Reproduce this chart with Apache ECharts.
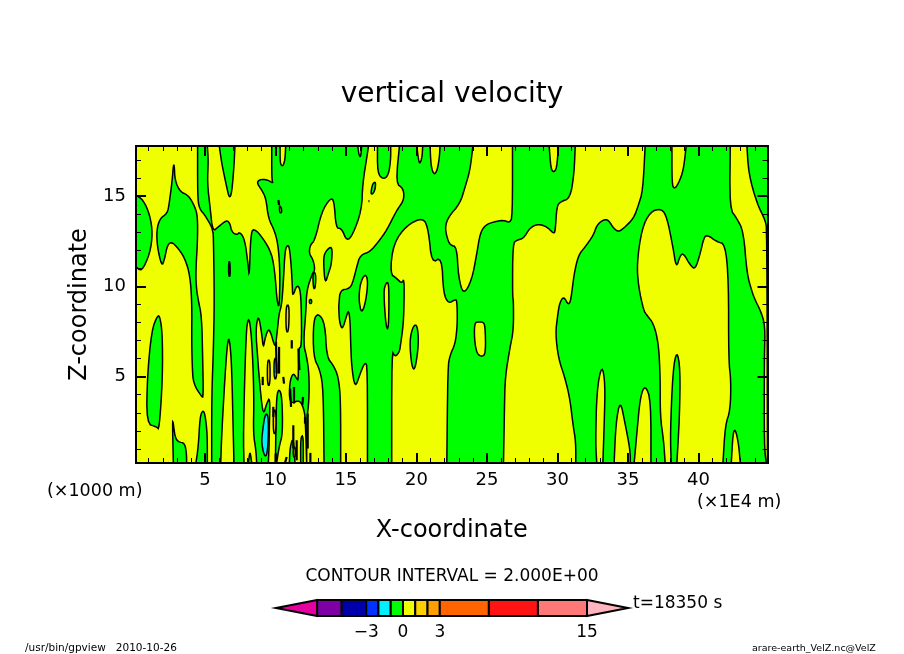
<!DOCTYPE html>
<html><head><meta charset="utf-8">
<style>html,body{margin:0;padding:0;background:#fff}#c{width:904px;height:654px}</style>
<script src="https://cdn.jsdelivr.net/npm/echarts@6/dist/echarts.min.js"></script>
</head><body><div id="c"></div>
<script>
// axis values
const xMin=0.1,xMax=44.9,zMin=0.22,zMax=17.77;
const xMajor=[5,10,15,20,25,30,35,40];
const zMajor=[5,10,15];
const xMinor=[1,2,3,4,5,6,7,8,9,10,11,12,13,14,15,16,17,18,19,20,21,22,23,24,25,26,27,28,29,30,31,32,33,34,35,36,37,38,39,40,41,42,43,44];
const zMinor=[1,2,3,4,5,6,7,8,9,10,11,12,13,14,15,16,17];
// contour regions: [x (1E4 m), z (1000 m)]
const wholeField=[[0.1,17.77],[44.9,17.77],[44.9,0.22],[0.1,0.22]];
const yellowLeft=[[0.1,17.77],[4.47,17.77],[4.47,14.96],[4.59,14.31],[4.99,13.94],[5.47,13.3],[5.54,13.02],[5.59,12.93],[5.66,9.23],[5.59,6.46],[5.47,3.88],[5.47,0.22],[0.1,0.22]];
const yellowTop=[[5.16,17.77],[5.23,16.99],[5.16,15.7],[5.35,14.41],[5.54,13.02],[5.94,13.3],[6.53,13.67],[6.77,13.48],[6.89,13.02],[7.24,12.84],[7.48,13.02],[7.83,12.56],[8.07,11.08],[8.14,10.53],[8.23,12.74],[8.42,13.26],[9.13,12.65],[9.73,11.82],[9.96,10.71],[10.08,9.42],[10.2,8.87],[10.27,9.05],[10.32,10.71],[10.2,12.19],[9.96,13.02],[9.49,13.76],[9.32,14.87],[9.02,15.33],[8.66,15.74],[8.9,15.92],[9.37,15.92],[9.84,15.7],[9.73,15.88],[9.73,17.77]];
const yellowSpikeI=[[6.65,7.2],[6.48,5.91],[6.18,1.85],[6.11,0.22],[7.05,0.22],[7.0,1.85],[6.89,5.54],[6.77,6.83]];
const yellowSpikeJ=[[8.07,8.31],[7.9,7.39],[7.71,1.85],[7.76,0.22],[8.66,0.22],[8.61,0.92],[8.42,1.85],[8.47,3.69],[8.38,6.09],[8.23,7.76]];
const yellowCentral=[[8.78,8.46],[9.02,7.39],[9.13,6.56],[9.25,7.11],[9.49,7.66],[9.68,7.39],[9.84,6.93],[9.99,6.65],[10.13,7.57],[10.25,8.5],[10.43,8.96],[10.55,10.16],[10.67,12.0],[10.84,12.28],[10.98,12.19],[11.12,11.08],[11.19,9.97],[11.22,9.42],[11.5,10.07],[11.74,9.88],[11.83,8.87],[11.85,6.65],[11.62,6.56],[11.62,4.8],[11.5,4.89],[11.26,5.21],[11.03,4.8],[10.96,3.88],[11.15,3.51],[11.62,3.69],[11.85,3.51],[12.02,3.14],[12.11,2.68],[12.21,0.22],[9.49,0.22],[9.54,1.11],[9.56,2.22],[9.61,3.88],[9.37,3.51],[9.13,2.86],[8.94,4.06],[8.78,5.54],[8.73,6.09],[8.59,7.57]];
const yellowMiddle=[[16.59,17.77],[17.23,17.77],[17.23,16.25],[17.65,15.92],[18.01,16.16],[18.17,16.99],[18.17,17.77],[18.79,17.77],[18.53,15.7],[19.07,15.42],[19.12,14.78],[18.6,14.22],[17.89,13.11],[17.3,12.47],[16.7,11.91],[16.0,11.73],[15.76,11.08],[15.52,10.34],[15.29,9.88],[14.58,9.79],[14.5,9.05],[14.48,8.87],[14.53,8.03],[14.74,7.57],[15.05,8.4],[15.17,8.68],[15.29,8.13],[15.33,6.83],[15.4,5.54],[15.64,4.34],[16.0,5.17],[16.35,5.82],[16.52,5.54],[16.52,0.22],[14.62,0.22],[14.62,3.69],[14.46,4.99],[14.1,5.63],[13.63,6.09],[13.51,7.94],[13.04,8.53],[12.68,8.13],[12.68,6.09],[13.16,5.36],[13.39,4.25],[13.44,0.22],[12.21,0.22],[12.21,2.59],[12.38,3.69],[12.38,5.17],[12.21,6.09],[11.97,6.83],[12.16,8.68],[12.21,9.79],[12.61,10.71],[12.8,10.9],[12.68,11.45],[12.38,11.82],[12.45,12.28],[12.8,12.56],[13.27,14.13],[13.87,14.87],[14.15,14.78],[14.29,13.21],[14.69,13.21],[15.05,12.5],[15.47,12.84],[16.11,14.22],[16.18,15.7],[16.52,17.36]];
const yellowBlobA=[[16.35,10.71],[16.0,10.16],[15.9,9.23],[16.11,8.46],[16.42,9.23],[16.56,10.34]];
const yellowThin=[[18.01,10.34],[17.7,9.97],[17.7,9.23],[17.84,7.76],[18.01,7.61],[18.05,9.23]];
const yellowRight3=[[18.12,10.71],[18.36,12.37],[19.31,13.39],[20.49,13.82],[20.85,13.11],[21.08,11.27],[21.79,11.64],[21.91,9.6],[22.27,9.05],[22.74,9.27],[22.86,9.23],[22.9,8.31],[22.86,7.57],[22.74,6.83],[22.38,6.19],[22.22,5.54],[22.15,0.22],[18.24,0.22],[18.24,6.46],[18.48,6.09],[18.79,6.37],[18.88,6.83],[19.07,7.94],[19.12,9.23],[19.12,10.43],[18.95,10.16],[18.6,10.43]];
const yellowUpper4=[[24.0,17.77],[26.81,17.77],[26.81,13.85],[26.6,13.52],[26.17,13.67],[25.46,13.57],[24.87,13.39],[24.51,12.93],[24.28,11.82],[23.92,10.34],[23.33,9.51],[22.97,10.53],[22.86,12.19],[22.38,12.28],[22.15,12.74],[22.03,13.3],[22.27,13.85],[23.09,14.59],[23.45,15.51],[23.8,16.44]];
const yellowBand5=[[31.26,17.77],[36.22,17.77],[36.06,15.33],[35.75,14.5],[35.4,13.76],[34.69,13.21],[34.33,13.02],[33.98,13.21],[33.62,13.67],[33.27,13.7],[32.79,13.39],[32.56,12.84],[31.97,12.19],[31.49,11.73],[31.18,10.71],[30.95,9.23],[30.78,8.96],[30.43,9.46],[30.14,9.05],[30.0,8.31],[29.86,7.39],[30.07,6.0],[30.55,4.89],[30.9,3.69],[31.09,2.4],[31.3,1.38],[31.3,0.22],[26.17,0.22],[26.24,3.32],[26.29,4.99],[26.64,6.65],[26.88,7.57],[26.88,9.23],[26.81,9.42],[26.83,12.37],[27.12,12.56],[27.59,12.65],[28.06,13.26],[28.65,13.45],[29.25,13.3],[29.72,12.93],[29.84,13.02],[29.95,14.41],[30.19,14.68],[30.9,14.87],[31.18,16.25]];
const yellowBlob5=[[24.11,7.98],[24.39,8.03],[24.7,8.03],[24.87,7.85],[24.91,6.28],[24.63,6.09],[24.28,6.28],[24.11,7.02]];
const yellowBlock6=[[37.36,14.31],[36.58,14.13],[35.99,13.21],[35.63,11.27],[35.75,9.97],[36.11,8.68],[36.34,8.4],[36.82,7.94],[37.17,6.83],[37.29,4.99],[37.29,2.77],[37.53,1.48],[37.64,0.22],[41.74,0.22],[41.9,2.31],[42.26,3.14],[42.31,4.8],[42.14,5.91],[42.14,10.34],[41.9,12.34],[41.31,12.47],[40.6,12.87],[40.37,12.65],[40.13,11.82],[39.77,10.93],[39.42,11.17],[38.95,11.82],[38.71,11.73],[38.43,10.99],[38.19,12.19],[37.76,13.85]];
const yellowSpike1=[[33.15,5.69],[32.79,4.25],[32.7,1.29],[32.79,0.22],[33.22,0.22],[33.31,2.22],[33.39,4.62]];
const yellowSpike2=[[34.45,3.73],[34.14,2.4],[34.02,0.22],[35.16,0.22],[35.16,0.92],[34.8,2.4]];
const yellowSpike3=[[36.22,4.56],[35.87,3.88],[35.63,1.85],[35.44,0.22],[36.63,0.22],[36.63,3.69]];
const yellowEdge7=[[42.26,17.77],[43.44,17.77],[43.56,16.25],[44.15,14.59],[44.74,13.67],[44.86,13.11],[44.9,0.22],[44.81,0.22],[44.67,1.11],[44.67,5.91],[44.74,7.85],[44.39,8.68],[44.03,9.23],[43.8,9.7],[43.44,10.71],[43.2,13.02],[42.73,13.76],[42.21,14.31]];
const yellowSpike8=[[42.61,2.12],[42.45,1.85],[42.33,0.22],[42.97,0.22],[42.85,1.29]];
const yellowNotches=[
 [[10.32,17.77],[10.32,16.81],[10.51,16.62],[10.67,16.99],[10.72,17.77]],
 [[15.83,17.77],[15.92,17.27],[16.04,17.14],[16.11,17.77]],
 [[20.02,17.77],[20.14,16.99],[20.25,16.77],[20.4,17.18],[20.44,17.77]],
 [[20.96,17.77],[21.03,16.62],[21.25,16.16],[21.48,16.44],[21.63,17.18],[21.67,17.77]],
 [[29.41,17.77],[29.53,16.53],[29.72,16.31],[29.95,16.53],[30.07,17.77]],
 [[38.12,17.77],[38.12,15.7],[38.28,15.37],[38.59,15.7],[38.94,16.44],[39.13,17.77]],
 [[6.67,11.36],[6.77,11.36],[6.79,10.56],[6.67,10.56]],
 [[10.27,14.5],[10.43,14.31],[10.43,14.07],[10.29,14.07]]
];
const greenIslands=[
 [[0.1,15.05],[0.62,14.78],[1.09,13.94],[1.28,12.93],[1.09,11.82],[0.5,10.81],[0.1,11.08]],
 [[2.75,16.71],[2.67,15.88],[2.46,14.59],[2.32,14.04],[1.8,13.76],[1.56,13.11],[1.61,12.19],[1.92,11.12],[2.11,11.45],[2.32,12.28],[2.63,12.47],[3.1,12.1],[3.57,11.54],[3.93,10.62],[4.07,9.05],[4.05,7.02],[4.09,5.54],[4.17,4.62],[4.76,3.88],[4.88,3.88],[4.83,6.09],[4.76,8.31],[4.52,9.23],[4.4,9.79],[4.33,10.71],[4.47,12.56],[4.47,13.85],[4.28,14.41],[3.81,15.05],[3.22,15.24],[2.86,15.88],[2.82,16.71]],
 [[1.63,8.4],[1.21,7.57],[0.9,4.99],[0.85,2.4],[1.56,2.22],[1.75,2.07],[1.99,4.99],[1.97,7.39],[1.8,8.31]],
 [[2.7,2.73],[2.86,1.66],[3.1,1.38],[3.57,1.33],[3.69,0.65],[3.69,0.22],[2.75,0.22],[2.7,1.85]],
 [[4.83,3.14],[4.64,2.77],[4.52,1.11],[4.35,0.22],[5.16,0.22],[5.16,1.85],[4.99,2.95]],
 [[6.01,17.77],[6.18,16.81],[6.53,15.51],[6.72,14.87],[6.89,15.15],[7.05,16.62],[7.12,17.77]],
 [[8.19,0.92],[8.07,0.22],[8.31,0.22]],
 [[10.08,3.97],[10.25,4.34],[10.46,3.88],[10.51,1.85],[10.25,1.11],[10.08,0.22],[9.99,0.22],[10.03,2.4]],
 [[11.03,1.11],[11.26,1.66],[11.38,0.22],[10.98,0.22]],
 [[11.78,1.66],[11.97,1.75],[11.97,0.22],[11.78,0.22]],
 [[14.03,12.28],[13.51,11.91],[13.39,11.45],[13.51,10.12],[13.75,10.71],[13.98,11.27]],
 [[16.75,15.15],[16.89,15.7],[17.11,15.79],[17.06,15.33],[16.87,15.09]],
 [[12.64,10.8],[12.87,10.71],[12.82,9.88],[12.68,9.88]],
 [[12.4,9.27],[12.56,9.27],[12.56,9.05],[12.4,9.05]],
 [[19.5,7.02],[19.78,7.85],[20.06,7.85],[20.16,6.83],[19.9,5.36],[19.66,5.54]],
 [[38.47,6.46],[38.19,5.36],[38.0,1.85],[38.07,0.22],[38.47,0.22],[38.66,2.77],[38.71,5.45]]
];
const cyanCells=[
 [[9.25,2.96],[9.49,2.86],[9.49,1.48],[9.37,0.59],[9.18,0.65],[9.02,1.29],[9.04,1.75]],
 [[9.89,6],[10.08,6],[10.08,4.89],[9.89,4.89]]
];
const goldCells=[
 [[9.42,5.91],[9.61,5.91],[9.61,4.53],[9.42,4.53]],
 [[10.74,8.96],[10.98,8.96],[10.93,7.48],[10.74,7.48]],
 [[9.84,3.14],[10.03,3.14],[10.03,1.85],[9.84,1.85]],
 [[11.26,1.11],[11.4,1.11],[11.4,0.55],[11.26,0.55]]
];
// tight clusters of contours that read as short black strokes
const denseContours=[
 [[10.03,6.93],[10.08,5.17]],[[10.25,6.65],[10.25,5.17]],[[10.55,4.99],[10.6,4.62]],[[11.15,7.02],[11.15,6.56]],
 [[11.62,6.56],[11.69,5.36]],[[9.09,4.99],[9.09,4.53]],[[11.03,4.34],[11.1,3.33]],[[11.31,4.43],[11.31,3.51]],
 [[11.26,2.31],[11.26,1.02]],[[12.28,2.96],[12.28,1.02]],[[12.47,0.78],[12.47,0.22]],[[10.01,0.74],[10.01,0.22]],
 [[9.84,3.33],[9.84,2.77]],[[11.95,3.88],[11.9,3.42]],[[10.2,14.78],[10.25,14.5]],[[16.59,14.72],[16.66,14.72]],
 [[12.09,2.77],[12.09,2.4]],[[11.5,1.48],[11.5,0.37]],[[10.79,0.55],[10.67,0.22]]
];
// colour bar
const barEdges=[-7,-5,-3,-2,-1,0,1,2,3,7,11,15];
const barColors=['#7d00a5','#0000aa','#0032ff','#00f0ff','#00ff00','#f0ff00','#ffd000','#ffa000','#ff6400','#ff1414','#ff7878'];
const barLowTip=-10.35,barHighTip=18.34;
const barLowColor='#e600a0',barHighColor='#ffb4be';
const barLabels=[-3,0,3,15];

const GREEN='#00ff00',YELLOW='#f0ff00',CYAN='#00f0ff',GOLD='#ffd000';
// rounds the drawn outline between the read vertices; vertices on the frame stay put
function onFrame(p){return p[0]<=xMin||p[0]>=xMax||p[1]<=zMin||p[1]>=zMax;}
function roundOnce(pts){
 const out=[],n=pts.length;
 pts.forEach((p,i)=>{
  if(onFrame(p)){out.push(p);return;}
  const a=pts[(i+n-1)%n],b=pts[(i+1)%n];
  out.push([.75*p[0]+.25*a[0],.75*p[1]+.25*a[1]]);
  out.push([.75*p[0]+.25*b[0],.75*p[1]+.25*b[1]]);
 });
 return out;
}
function rounded(pts){return roundOnce(roundOnce(pts));}
const yellowList=[yellowLeft,yellowTop,yellowSpikeI,yellowSpikeJ,yellowCentral,yellowMiddle,yellowBlobA,yellowThin,yellowRight3,yellowUpper4,yellowBand5,yellowBlob5,yellowBlock6,yellowSpike1,yellowSpike2,yellowSpike3,yellowEdge7,yellowSpike8].concat(yellowNotches);
const layers=[{pts:wholeField,fill:GREEN,noStroke:true}]
 .concat(yellowList.map(p=>({pts:rounded(p),fill:YELLOW})))
 .concat(greenIslands.map(p=>({pts:rounded(p),fill:GREEN})))
 .concat(cyanCells.map(p=>({pts:rounded(p),fill:CYAN})))
 .concat(goldCells.map(p=>({pts:rounded(p),fill:GOLD})));

const FONT='DejaVu Sans';
function xAxisOf(pos,values,len,width,labels){
 return {type:'value',gridIndex:0,position:pos,min:xMin,max:xMax,z:10,splitLine:{show:false},
  axisLine:{show:true,onZero:false,lineStyle:{color:'#000',width:2}},
  axisTick:{show:true,inside:true,length:len,customValues:values,lineStyle:{color:'#000',width:width}},
  axisLabel:labels?{show:true,customValues:values,margin:8,fontFamily:FONT,fontSize:18,color:'#000'}:{show:false}};
}
function zAxisOf(pos,values,len,width,labels){
 return {type:'value',gridIndex:0,position:pos,min:zMin,max:zMax,z:10,splitLine:{show:false},
  axisLine:{show:true,onZero:false,lineStyle:{color:'#000',width:2}},
  axisTick:{show:true,inside:true,length:len,customValues:values,lineStyle:{color:'#000',width:width}},
  axisLabel:labels?{show:true,customValues:values,margin:10,fontFamily:FONT,fontSize:18,color:'#000',verticalAlignMaxLabel:'middle',verticalAlignMinLabel:'middle'}:{show:false}};
}
const xAxes=[
 Object.assign(xAxisOf('bottom',xMajor,10,2,true),{name:'X-coordinate',nameLocation:'middle',nameGap:56,nameTextStyle:{fontFamily:FONT,fontSize:24,color:'#000'}}),
 xAxisOf('bottom',xMinor,5,1,false),xAxisOf('top',xMajor,10,2,false),xAxisOf('top',xMinor,5,1,false),
 {type:'value',gridIndex:1,position:'bottom',min:barLowTip,max:barHighTip,splitLine:{show:false},axisLine:{show:false},axisTick:{show:false},
  axisLabel:{show:true,customValues:barLabels,margin:8,fontFamily:FONT,fontSize:17,color:'#000',formatter:v=>v<0?'\u2212'+(-v):String(v)}}
];
const zAxes=[
 Object.assign(zAxisOf('left',zMajor,10,2,true),{name:'Z-coordinate',nameLocation:'middle',nameGap:38,nameRotate:90,nameTextStyle:{fontFamily:FONT,fontSize:24,color:'#000'}}),
 zAxisOf('left',zMinor,5,1,false),zAxisOf('right',zMajor,10,2,false),zAxisOf('right',zMinor,5,1,false),
 {type:'value',gridIndex:1,min:0,max:1,show:false}
];
const barItems=barColors.map((c,i)=>({pts:[[barEdges[i],1],[barEdges[i+1],1],[barEdges[i+1],0],[barEdges[i],0]],fill:c}))
 .concat([{pts:[[barLowTip,0.5],[barEdges[0],1],[barEdges[0],0]],fill:barLowColor},
          {pts:[[barHighTip,0.5],[barEdges[barEdges.length-1],1],[barEdges[barEdges.length-1],0]],fill:barHighColor}]);

function label(text,x,y,size,align){
 return {type:'text',x:x,y:y,silent:true,style:{text:text,fontFamily:FONT,fontSize:size,fill:'#000',textAlign:align||'left',textVerticalAlign:'middle'}};
}
const chart=echarts.init(document.getElementById('c'),null,{renderer:'canvas'});
chart.setOption({
 animation:false,backgroundColor:'#fff',
 title:{text:'vertical velocity',left:'center',top:76,textStyle:{fontFamily:FONT,fontSize:28,fontWeight:'normal',color:'#000'}},
 grid:[{left:136,top:146,width:631.5,height:317},{left:276,top:600,width:352,height:16}],
 xAxis:xAxes,yAxis:zAxes,
 series:[
  {type:'custom',coordinateSystem:'cartesian2d',xAxisIndex:0,yAxisIndex:0,clip:true,z:2,silent:true,
   data:layers.map((l,i)=>[l.pts[0][0],l.pts[0][1],i]),
   renderItem:(p,api)=>{const l=layers[p.dataIndex];
    return {type:'polygon',shape:{points:l.pts.map(q=>api.coord(q))},style:{fill:l.fill,stroke:l.noStroke?null:'#000',lineWidth:1.5}};}},
  {type:'custom',coordinateSystem:'cartesian2d',xAxisIndex:0,yAxisIndex:0,clip:true,z:3,silent:true,
   data:denseContours.map((l,i)=>[l[0][0],l[0][1],i]),
   renderItem:(p,api)=>{const l=denseContours[p.dataIndex];
    return {type:'polyline',shape:{points:l.map(q=>api.coord(q))},style:{fill:null,stroke:'#000',lineWidth:2.2}};}},
  {type:'custom',coordinateSystem:'cartesian2d',xAxisIndex:4,yAxisIndex:4,clip:false,z:3,silent:true,
   data:barItems.map((l,i)=>[l.pts[0][0],l.pts[0][1],i]),
   renderItem:(p,api)=>{const l=barItems[p.dataIndex];
    return {type:'polygon',shape:{points:l.pts.map(q=>api.coord(q))},style:{fill:l.fill,stroke:'#000',lineWidth:2}};}}
 ],
 graphic:[
  label('(\u00d71000 m)',47,491,17.5),
  label('(\u00d71E4 m)',697,502,17.5),
  label('CONTOUR INTERVAL = 2.000E+00',452,577,17,'center'),
  label('t=18350 s',633,604,17),
  label('/usr/bin/gpview   2010-10-26',25,648.5,10.5),
  label('arare-earth_VelZ.nc@VelZ',752,648.5,9.5)
 ]
});
</script></body></html>
